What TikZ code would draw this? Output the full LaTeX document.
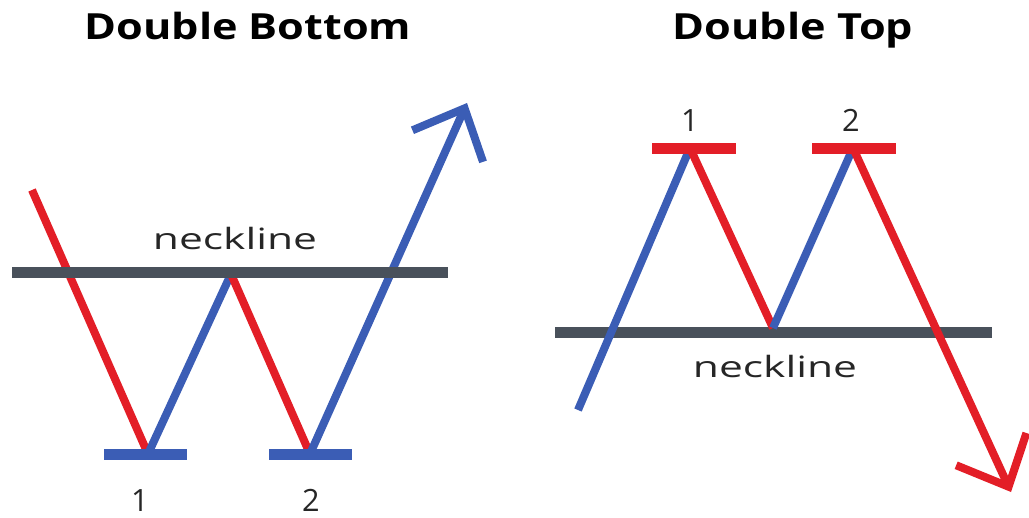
\documentclass[tikz,border=0pt]{standalone}
\usepackage{fontspec}
\setmainfont{Open Sans}
\newfontfamily\titleface{Open Sans}[FakeStretch=1.2]
\newfontfamily\wideface{Open Sans}[FakeStretch=1.45]
\usetikzlibrary{arrows.meta}

\definecolor{upblue}{HTML}{3B5DB5}
\definecolor{downred}{HTML}{E31E27}
\definecolor{neckgray}{HTML}{49515B}

\begin{document}
\begin{tikzpicture}[x=0.75pt,y=-0.75pt,
	upleg/.style={draw=upblue, line width=6pt},
	downleg/.style={draw=downred, line width=6pt},
	neck/.style={draw=neckgray, line width=8.25pt},
	bar/.style={line width=8.25pt},
	trend/.style={-{Straight Barb[length=31pt,width=58pt,sharp]}},
	title/.style={anchor=base, font=\titleface\bfseries\fontsize{27}{32}\selectfont},
	lbl/.style={anchor=base, font=\wideface\fontsize{22}{24}\selectfont, text=black!85},
	num/.style={anchor=base, font=\fontsize{23}{26}\selectfont, text=black!85}]
	
	\useasboundingbox (0,0) rectangle (1029,518);
	
	% Titles
	\node[title] (tbot) at (248,39) {Double Bottom};
	\node[title] (ttop) at (793,39) {Double Top};
	
	% Double bottom points
	\coordinate (a0) at (32,190);
	\coordinate (a1) at (148,454);
	\coordinate (a2) at (231,274);
	\coordinate (a3) at (310,454);
	\coordinate (a4) at (467,103);
	\coordinate (nl1) at (12,272);
	\coordinate (nr1) at (448,272);
	
	% Double bottom legs
	\draw[downleg] (a0) -- (a1);
	\draw[upleg] (a1) -- (a2);
	\draw[downleg] (a2) -- (a3);
	\draw[upleg, trend] (a3) -- (a4);
	
	% Bottom bars
	\draw[bar, upblue] (104,454) coordinate (b1l) -- (187,454) coordinate (b1r);
	\draw[bar, upblue] (269,454) coordinate (b2l) -- (352,454) coordinate (b2r);
	
	% Neckline (on top)
	\draw[neck] (nl1) -- (nr1);
	\node[lbl] (neck1) at (235,249) {neckline};
	
	% Bottom labels
	\node[num] (n1) at (140,511) {1};
	\node[num] (n2) at (311,511) {2};
	
	% Double top points
	\coordinate (c0) at (578,410);
	\coordinate (c1) at (690,148);
	\coordinate (c2) at (773,328);
	\coordinate (c3) at (853,148);
	\coordinate (c4) at (1011,492);
	\coordinate (nl2) at (555,332);
	\coordinate (nr2) at (992,332);
	
	% Neckline (below)
	\draw[neck] (nl2) -- (nr2);
	\node[lbl] (neck2) at (775,377) {neckline};
	
	% Double top legs
	\draw[upleg] (c0) -- (c1);
	\draw[downleg] (c1) -- (c2);
	\draw[upleg] (c2) -- (c3);
	\draw[downleg, trend] (c3) -- (c4);
	
	% Top bars
	\draw[bar, downred] (652,148) coordinate (t1l) -- (736,148) coordinate (t1r);
	\draw[bar, downred] (812,148) coordinate (t2l) -- (896,148) coordinate (t2r);
	
	% Top labels
	\node[num] (m1) at (690,131) {1};
	\node[num] (m2) at (851,131) {2};
	
\end{tikzpicture}
\end{document}
